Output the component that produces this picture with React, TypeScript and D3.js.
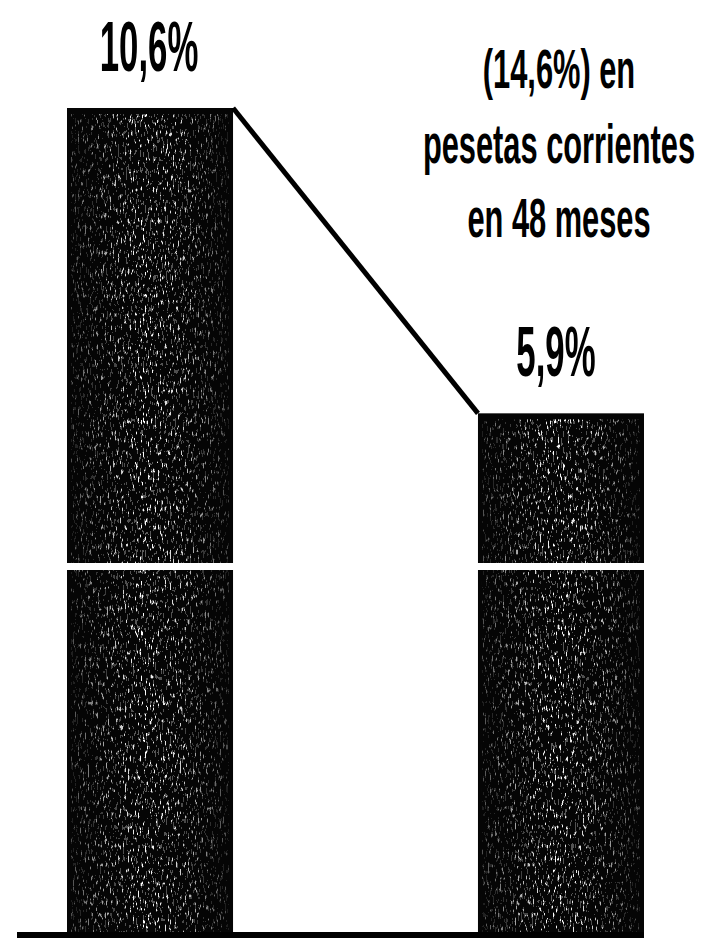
import React from "react";
import * as d3 from "d3";

// Bar values (percent) and their printed labels
const barKeys = ["inicio", "final"];
const barValues = [10.6, 5.9];
const valueLabels = ["10,6%", "5,9%"];
// Note printed above the second bar
const noteLines = ["(14,6%) en", "pesetas corrientes", "en 48 meses"];

const W = 714;
const H = 938;
const FONT = "'Liberation Sans', Arial, sans-serif";

export default function App() {
  const x = d3
    .scaleBand<string>()
    .domain(barKeys)
    .range([67, 644])
    .paddingInner(0.596)
    .paddingOuter(0);
  const bw = x.bandwidth();

  // Truncated value axis: the band at breakY marks the cut
  const y = d3.scaleLinear().domain([3.55, 10.6]).range([566, 108]);
  const baseY = 932;
  const breakY = 563;
  const breakH = 7;

  const connector = d3.line<[number, number]>()([
    [(x(barKeys[0]) as number) + bw, y(barValues[0])],
    [x(barKeys[1]) as number, y(barValues[1])],
  ]);

  const noteX = (x(barKeys[1]) as number) + bw / 2 - 2;

  return (
    <svg
      width={W}
      height={H}
      viewBox={`0 0 ${W} ${H}`}
      style={{ position: "absolute", left: 0, top: 0, background: "#fff" }}
    >
      <defs>
        <linearGradient id="grainDensity" x1="0" x2="1" y1="0" y2="0">
          <stop offset="0" stopColor="#fff" stopOpacity={0.3} />
          <stop offset="0.45" stopColor="#fff" stopOpacity={1} />
          <stop offset="0.7" stopColor="#fff" stopOpacity={0.8} />
          <stop offset="1" stopColor="#fff" stopOpacity={0.25} />
        </linearGradient>
        <filter id="grain" x="0" y="0" width="100%" height="100%">
          <feTurbulence
            type="fractalNoise"
            baseFrequency="0.6 0.16"
            numOctaves={2}
            seed={7}
            result="noise"
          />
          <feColorMatrix
            in="noise"
            type="matrix"
            values="0 0 0 0 1  0 0 0 0 1  0 0 0 0 1  1 0 0 0 0"
            result="alphaNoise"
          />
          <feComponentTransfer in="alphaNoise" result="dots">
            <feFuncA type="discrete" tableValues="0 0 0 0 0 0 0.35 1 1 1" />
          </feComponentTransfer>
          <feComposite in="dots" in2="SourceGraphic" operator="in" />
        </filter>
      </defs>

      {/* bars */}
      {barKeys.map((k, i) => {
        const bx = x(k) as number;
        const top = y(barValues[i]);
        return (
          <g key={k}>
            <rect x={bx} y={top} width={bw} height={baseY - top} fill="#050505" />
            <rect
              x={bx + 4}
              y={top + 6}
              width={bw - 8}
              height={baseY - top - 6}
              fill="url(#grainDensity)"
              filter="url(#grain)"
            />
            <rect x={bx - 1} y={breakY} width={bw + 2} height={breakH} fill="#fff" />
          </g>
        );
      })}

      {/* baseline */}
      <rect x={17} y={baseY} width={627} height={H - baseY} fill="#000" />

      {/* connector between bar tops */}
      <path d={connector ?? ""} fill="none" stroke="#000" strokeWidth={5} />

      {/* value labels */}
      {barKeys.map((k, i) => {
        const cx = (x(k) as number) + bw / 2 - (i === 1 ? 5 : 1);
        const by = y(barValues[i]) - 37.5;
        return (
          <text
            key={k}
            transform={`translate(${cx},${by}) scale(0.49,1)`}
            textAnchor="middle"
            fontFamily={FONT}
            fontWeight="bold"
            fontSize={71}
            fill="#000"
          >
            {valueLabels[i]}
          </text>
        );
      })}

      {/* note */}
      {noteLines.map((line, i) => (
        <text
          key={line}
          transform={`translate(${noteX},${88 + i * 74.5}) scale(0.56,1)`}
          textAnchor="middle"
          fontFamily={FONT}
          fontWeight="bold"
          fontSize={55}
          fill="#000"
        >
          {line}
        </text>
      ))}
    </svg>
  );
}
